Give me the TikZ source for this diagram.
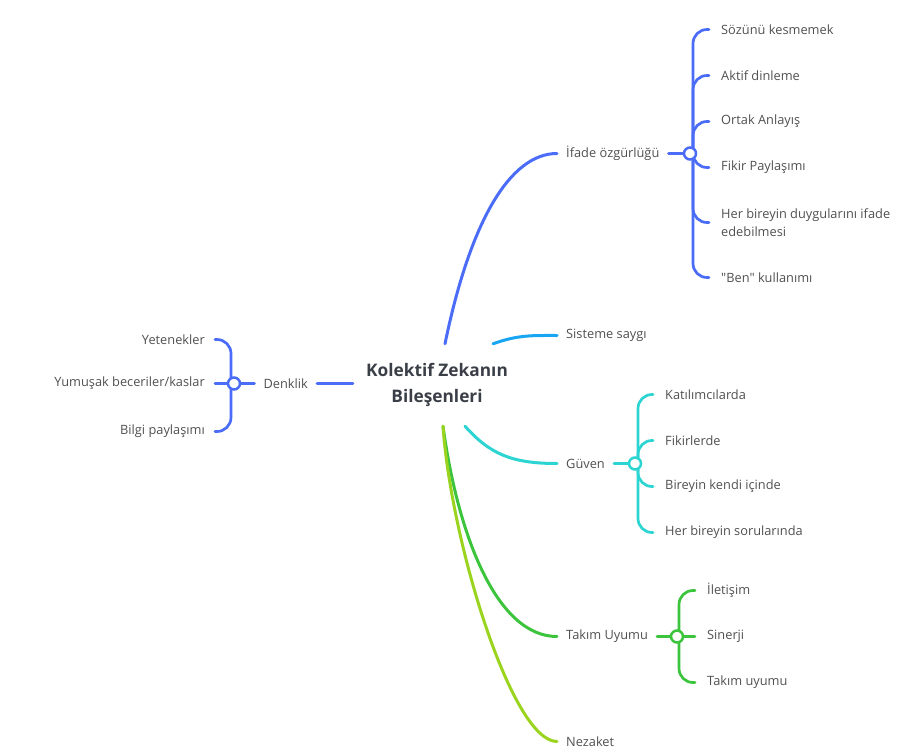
\documentclass[tikz,border=0pt]{standalone}
\usepackage{fontspec}
\setmainfont{Open Sans}[Ligatures=TeXOff]
\usepackage{xcolor}
\usetikzlibrary{backgrounds}

\definecolor{ifadeblue}{HTML}{4A6CF7}
\definecolor{sistemblue}{HTML}{18A6F2}
\definecolor{guventeal}{HTML}{2DD5D2}
\definecolor{takimgreen}{HTML}{3CC43C}
\definecolor{nezaketlime}{HTML}{9AD41E}
\definecolor{labelgray}{HTML}{505050}
\definecolor{rootgray}{HTML}{3A3F47}

\begin{document}
\begin{tikzpicture}[
    x=1pt, y=-1pt,
    root/.style={minimum width=168pt, minimum height=82pt, inner sep=0pt, align=center, text=rootgray, font=\fontsize{17.3}{26}\selectfont\bfseries},
    branch/.style={anchor=west, inner xsep=9pt, inner ysep=2pt, yshift=-1.5pt, text=labelgray, font=\fontsize{12.8}{18}\selectfont},
    leaf/.style={anchor=west, inner xsep=12pt, inner ysep=2pt, yshift=-1.5pt, align=left, text=labelgray, font=\fontsize{12.8}{18}\selectfont},
    leftleaf/.style={leaf, anchor=east, inner xsep=10pt, align=right},
    hub/.style={circle, draw=#1, fill=white, line width=2.5pt, minimum size=12pt, inner sep=0pt},
    link/.style={draw=#1, line width=3pt, line cap=round},
    twig/.style={draw=#1, line width=2.7pt, line cap=round, rounded corners=14pt}
]
    \useasboundingbox (0,0) rectangle (921,749);

    % Nodes
    \node [root] (root) at (437,385) {Kolektif Zekanın\\Bileşenleri};

    \node [branch] (ifade) at (557,152) {İfade özgürlüğü};
    \node [branch] (sistem) at (557,334) {Sisteme saygı};
    \node [branch] (guven) at (557,462) {Güven};
    \node [branch] (takim) at (557,635) {Takım Uyumu};
    \node [branch] (nezaket) at (557,740) {Nezaket};
    \node [branch, anchor=east] (denklik) at (317,382) {Denklik};

    \node [hub=ifadeblue] (ifadehub) at (690,153.5) {};
    \node [hub=guventeal] (guvenhub) at (635,463.5) {};
    \node [hub=takimgreen] (takimhub) at (677,636.5) {};
    \node [hub=ifadeblue] (denkhub) at (234,383.5) {};

    \node [leaf] (sozunu) at (709,28) {Sözünü kesmemek};
    \node [leaf] (aktif) at (709,74) {Aktif dinleme};
    \node [leaf] (ortak) at (709,120) {Ortak Anlayış};
    \node [leaf] (fikir) at (709,166) {Fikir Paylaşımı};
    \node [leaf] (duygu) at (709,221) {Her bireyin duygularını ifade\\edebilmesi};
    \node [leaf] (ben) at (709,276) {"Ben" kullanımı};

    \node [leaf] (katilim) at (653,393) {Katılımcılarda};
    \node [leaf] (fikirler) at (653,439) {Fikirlerde};
    \node [leaf] (kendi) at (653,485) {Bireyin kendi içinde};
    \node [leaf] (soru) at (653,531) {Her bireyin sorularında};

    \node [leaf] (iletisim) at (695,589) {İletişim};
    \node [leaf] (sinerji) at (695,635) {Sinerji};
    \node [leaf] (uyum) at (695,681) {Takım uyumu};

    \node [leftleaf] (yetenek) at (215,338) {Yetenekler};
    \node [leftleaf] (yumusak) at (215,382) {Yumuşak beceriler/kaslar};
    \node [leftleaf] (bilgi) at (215,430) {Bilgi paylaşımı};

    % Paths
    \begin{scope}[on background layer]
    \path [link=ifadeblue] ([xshift=8pt]root.north) .. controls +(25,-122) and +(-47,0) .. (ifade.west);
    \path [link=sistemblue] ([xshift=56pt]root.north) .. controls +(25,-9) and +(-25,0) .. (sistem.west);
    \path [link=guventeal] ([xshift=28pt]root.south) .. controls +(25,28) and +(-45,0) .. (guven.west);
    \path [link=takimgreen] ([xshift=6pt]root.south) .. controls +(15,110) and +(-60,0) .. (takim.west);
    \path [link=nezaketlime] ([xshift=6pt]root.south) .. controls +(8,116) and +(-45,0) .. (nezaket.west);
    \path [link=ifadeblue] (root.west |- denklik.east) -- (denklik.east);

    \path [link=ifadeblue] (ifade.east) -- (ifadehub);
    \foreach \leafname in {sozunu, aktif, ortak, fikir, duygu, ben}
        \path [twig=ifadeblue] ([xshift=3pt]ifadehub.center) |- (\leafname.west);

    \path [link=guventeal] (guven.east) -- (guvenhub);
    \foreach \leafname in {katilim, fikirler, kendi, soru}
        \path [twig=guventeal] ([xshift=3pt]guvenhub.center) |- (\leafname.west);

    \path [link=takimgreen] (takim.east) -- (takimhub);
    \foreach \leafname in {iletisim, uyum}
        \path [twig=takimgreen] ([xshift=2pt]takimhub.center) |- (\leafname.west);
    \path [twig=takimgreen] (takimhub) -- (sinerji.west);

    \path [link=ifadeblue] (denklik.west) -- (denkhub);
    \foreach \leafname in {yetenek, bilgi}
        \path [twig=ifadeblue] ([xshift=-3pt]denkhub.center) |- (\leafname.east);
    \path [twig=ifadeblue] (denkhub) -- (yumusak.east);
    \end{scope}
\end{tikzpicture}
\end{document}
